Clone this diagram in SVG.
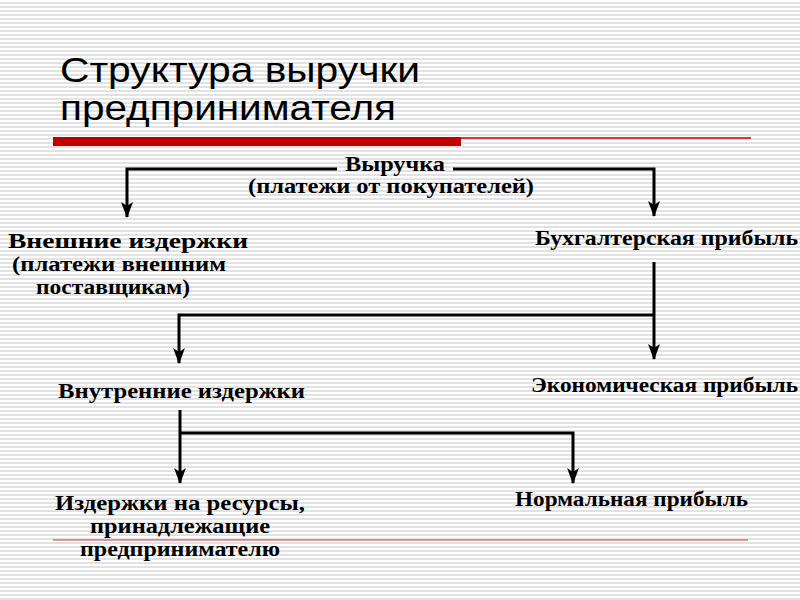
<svg xmlns="http://www.w3.org/2000/svg" width="800" height="600" viewBox="0 0 800 600">
<defs>
<pattern id="stripes" x="0" y="0" width="8" height="4" patternUnits="userSpaceOnUse">
<rect width="8" height="4" fill="#ffffff"/>
<rect y="2" width="8" height="2" fill="#e2e2e2"/>
</pattern>
<marker id="arr" viewBox="0 0 16 12" refX="15" refY="6" markerWidth="16" markerHeight="12" markerUnits="userSpaceOnUse" orient="auto">
<path d="M0,0 L4,6 L0,12 L16,6 Z" fill="#000"/>
</marker>
<style>
.t{font-family:"Liberation Sans",Arial,sans-serif;font-size:35px;fill:#000}
.n{font-family:"Liberation Serif","Times New Roman",serif;font-size:20px;font-weight:bold;fill:#000}
.c{fill:none;stroke:#000;stroke-width:3}
.a{marker-end:url(#arr)}
</style>
</defs>
<rect width="800" height="600" fill="url(#stripes)"/>
<g id="title">
<text class="t" x="60" y="82" textLength="360" lengthAdjust="spacingAndGlyphs">Структура выручки</text>
<text class="t" x="60" y="120" textLength="336" lengthAdjust="spacingAndGlyphs">предпринимателя</text>
<rect x="53" y="137" width="408" height="9" fill="#c00000"/>
<line x1="461" y1="138" x2="751" y2="138" stroke="#c00000" stroke-width="1.5"/>
</g>
<line id="underline" x1="53" y1="540" x2="748" y2="540" stroke="#b04040" stroke-width="1"/>
<g id="connectors">
<path class="c a" d="M337,169 H127 V217"/>
<path class="c a" d="M453,169 H654 V216"/>
<path class="c a" d="M654,262 V359"/>
<path class="c a" d="M654,315 H179 V363"/>
<path class="c a" d="M180,410 V483"/>
<path class="c a" d="M180,433 H573 V483"/>
</g>
<g id="revenue">
<text class="n" x="395" y="171" text-anchor="middle" textLength="100" lengthAdjust="spacingAndGlyphs">Выручка</text>
<text class="n" x="391" y="193" text-anchor="middle" textLength="286" lengthAdjust="spacingAndGlyphs">(платежи от покупателей)</text>
</g>
<g id="external-costs">
<text class="n" x="8" y="248" textLength="240" lengthAdjust="spacingAndGlyphs">Внешние издержки</text>
<text class="n" x="12" y="271" textLength="214" lengthAdjust="spacingAndGlyphs">(платежи внешним</text>
<text class="n" x="36" y="294" textLength="154" lengthAdjust="spacingAndGlyphs">поставщикам)</text>
</g>
<g id="accounting-profit">
<text class="n" x="535" y="245" textLength="263" lengthAdjust="spacingAndGlyphs">Бухгалтерская прибыль</text>
</g>
<g id="internal-costs">
<text class="n" x="58" y="398" textLength="247" lengthAdjust="spacingAndGlyphs">Внутренние издержки</text>
</g>
<g id="economic-profit">
<text class="n" x="531" y="392" textLength="267" lengthAdjust="spacingAndGlyphs">Экономическая прибыль</text>
</g>
<g id="own-resources">
<text class="n" x="55" y="510" textLength="250" lengthAdjust="spacingAndGlyphs">Издержки на ресурсы,</text>
<text class="n" x="90" y="533" textLength="180" lengthAdjust="spacingAndGlyphs">принадлежащие</text>
<text class="n" x="80" y="556" textLength="200" lengthAdjust="spacingAndGlyphs">предпринимателю</text>
</g>
<g id="normal-profit">
<text class="n" x="515" y="506" textLength="233" lengthAdjust="spacingAndGlyphs">Нормальная прибыль</text>
</g>
</svg>
